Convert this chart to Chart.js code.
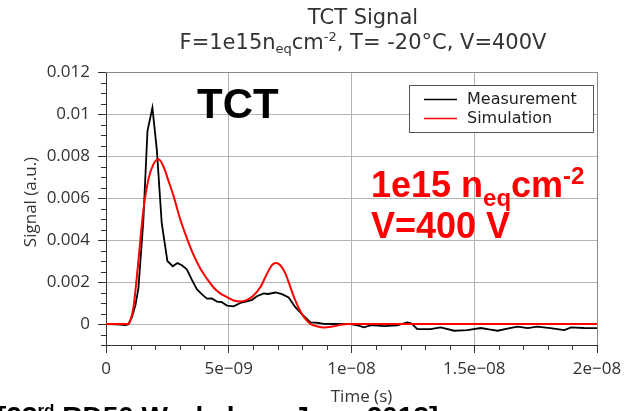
<!DOCTYPE html>
<html>
<head>
<meta charset="utf-8">
<script src="https://cdn.jsdelivr.net/npm/chart.js@4.4.0/dist/chart.umd.min.js"></script>
<style>
  html, body { margin: 0; padding: 0; background: #fff; }
  #wrap { width: 635px; height: 411px; position: relative; }
</style>
</head>
<body>
<div id="wrap"><canvas id="tct"></canvas></div>
<script>
// time in ns, signal in a.u.
const measTime = [0, 0.4, 0.8, 0.9, 1.05, 1.2, 1.32, 1.52, 1.69, 1.89, 2.07, 2.27, 2.5, 2.72, 2.91, 3.09, 3.29, 3.5, 3.7, 3.9,
  4.11, 4.31, 4.52, 4.72, 4.93, 5.2, 5.47, 5.74, 5.95, 6.15, 6.42, 6.6, 6.9, 7.17, 7.44, 7.71, 7.99, 8.33, 8.6, 8.87,
  9.28, 9.96, 10.3, 10.5, 10.8, 11.33, 11.86, 12.27, 12.45, 12.68, 13.22, 13.63, 14.18, 14.72, 15.27, 15.6, 15.95, 16.5, 16.77, 17.18,
  17.57, 18.1, 18.67, 18.94, 19.48, 20];
const measSignal = [0, -0.00002, -0.00005, -0.00002, 0.0003, 0.0009, 0.0017, 0.0049, 0.0092, 0.0103, 0.0083, 0.0048, 0.003, 0.00275, 0.0029, 0.0028, 0.0026, 0.0021, 0.00166, 0.00142,
  0.00121, 0.00122, 0.00107, 0.00104, 0.00088, 0.00084, 0.001, 0.00108, 0.00115, 0.00132, 0.00146, 0.00143, 0.0015, 0.00142, 0.00126, 0.0008, 0.00046, 0.00008, 0.00006, 0.00001,
  0, -0.00001, -0.00008, -0.00016, -0.00005, -0.0001, -0.00007, 0.00008, 0.00002, -0.00024, -0.00024, -0.00016, -0.00032, -0.00029, -0.00019, -0.00026, -0.00032, -0.00019, -0.00013, -0.0002,
  -0.00013, -0.0002, -0.00029, -0.00016, -0.00019, -0.0002];

const simTime = [0, 0.93, 1.0, 1.12, 1.32, 1.52, 1.73, 1.93, 2.14, 2.34, 2.55, 2.75, 3.02, 3.29, 3.56, 3.84, 4.11, 4.38, 4.65, 4.93,
  5.2, 5.47, 5.74, 6.01, 6.29, 6.56, 6.76, 6.92, 7.1, 7.31, 7.51, 7.71, 7.92, 8.12, 8.33, 8.6, 8.87, 9.28, 9.55, 9.9, 20];
const simSignal = [0, 0, 0.0002, 0.0008, 0.003, 0.0054, 0.0069, 0.0076, 0.00784, 0.0075, 0.0068, 0.0061, 0.005, 0.0041, 0.0033, 0.00264, 0.00216, 0.00174, 0.00146, 0.00128,
  0.00112, 0.00107, 0.00115, 0.00136, 0.00176, 0.0024, 0.0028, 0.0029, 0.0028, 0.0024, 0.00176, 0.00112, 0.0006, 0.00024, 0, -0.00011, -0.00017, -0.00011, -0.00004, 0, 0];

const xTickLabels = ["0", "5e\u221209", "1e\u221208", "1.5e\u221208", "2e\u221208"];
const yTickLabels = ["0", "0.002", "0.004", "0.006", "0.008", "0.01", "0.012"];

const X_MAJOR = 5e-9, X_MINOR = 1e-9;
const Y_MAJOR = 0.002, Y_MINOR = 0.0005;
const GRID = "#b4b4b4";
const AXIS = "#333";
const TEXT = "#333";

function isMajor(v, step) {
  const r = v / step;
  return Math.abs(r - Math.round(r)) < 1e-6;
}

// draws a row of text pieces (for sub/superscripts)
function drawRich(ctx, x, y, parts, family, weight, color, align) {
  let w = 0;
  parts.forEach(p => {
    ctx.font = `${weight} ${p.size}px ${family}`;
    p.w = ctx.measureText(p.t).width;
    w += p.w;
  });
  let cx = align === "center" ? x - w / 2 : x;
  ctx.fillStyle = color;
  ctx.textAlign = "left";
  ctx.textBaseline = "alphabetic";
  parts.forEach(p => {
    ctx.font = `${weight} ${p.size}px ${family}`;
    ctx.fillText(p.t, cx, y + (p.dy || 0));
    cx += p.w;
  });
}

const decor = {
  id: "decor",
  beforeDatasetsDraw(chart) {
    const { ctx, chartArea: a } = chart;
    ctx.save();
    ctx.strokeStyle = "#8a8a8a";
    ctx.lineWidth = 1;
    ctx.beginPath();
    ctx.moveTo(a.left, Math.round(a.top) + 0.5);
    ctx.lineTo(Math.round(a.right) + 0.5, Math.round(a.top) + 0.5);
    ctx.lineTo(Math.round(a.right) + 0.5, a.bottom);
    ctx.stroke();
    ctx.restore();
  },
  afterDraw(chart) {
    const { ctx, chartArea: a } = chart;
    const xs = chart.scales.x, ys = chart.scales.y;
    ctx.save();

    // minor ticks, shorter than the major ones
    ctx.strokeStyle = AXIS;
    ctx.lineWidth = 1;
    ctx.beginPath();
    xs.ticks.forEach(t => {
      if (isMajor(t.value, X_MAJOR)) return;
      const px = Math.round(xs.getPixelForValue(t.value)) + 0.5;
      ctx.moveTo(px, a.bottom);
      ctx.lineTo(px, a.bottom + 5);
    });
    ys.ticks.forEach(t => {
      if (isMajor(t.value, Y_MAJOR) && t.value >= 0) return;
      const py = Math.round(ys.getPixelForValue(t.value)) + 0.5;
      ctx.moveTo(a.left, py);
      ctx.lineTo(a.left - 5, py);
    });
    ctx.stroke();

    // title
    const tf = "'DejaVu Sans'";
    drawRich(ctx, 363, 24, [{ t: "TCT Signal", size: 21 }], tf, "normal", TEXT, "center");
    drawRich(ctx, 363, 49, [
      { t: "F=1e15n", size: 21 },
      { t: "eq", size: 13, dy: 4 },
      { t: "cm", size: 21 },
      { t: "-2", size: 13, dy: -8 },
      { t: ", T= -20\u00B0C, V=400V", size: 21 }
    ], tf, "normal", TEXT, "center");

    // axis titles
    ctx.fillStyle = TEXT;
    ctx.font = "17px 'Open Sans'";
    ctx.textAlign = "center";
    ctx.textBaseline = "middle";
    ctx.fillText("Time (s)", 361.5, 397);
    ctx.save();
    ctx.translate(31, 202);
    ctx.rotate(-Math.PI / 2);
    ctx.fillText("Signal (a.u.)", 0, 0);
    ctx.restore();

    // legend
    ctx.fillStyle = "#fff";
    ctx.fillRect(409.5, 85.5, 184, 47);
    ctx.strokeStyle = "#555";
    ctx.strokeRect(409.5, 85.5, 184, 47);
    chart.data.datasets.forEach((ds, i) => {
      const ly = 99.5 + i * 19;
      ctx.strokeStyle = ds.borderColor;
      ctx.lineWidth = 1.5;
      ctx.beginPath();
      ctx.moveTo(424, ly);
      ctx.lineTo(457, ly);
      ctx.stroke();
      ctx.fillStyle = "#222";
      ctx.font = "16px 'DejaVu Sans'";
      ctx.textAlign = "left";
      ctx.textBaseline = "middle";
      ctx.fillText(ds.label, 467, ly);
    });

    // annotations
    const af = "'Liberation Sans', Arial";
    drawRich(ctx, 197, 118, [{ t: "TCT", size: 42 }], af, "bold", "#000", "left");
    drawRich(ctx, 371, 197, [
      { t: "1e15 n", size: 36 },
      { t: "eq", size: 24, dy: 9 },
      { t: "cm", size: 36 },
      { t: "-2", size: 24, dy: -13 }
    ], af, "bold", "#ff0000", "left");
    drawRich(ctx, 371, 238, [{ t: "V=400 V", size: 36 }], af, "bold", "#ff0000", "left");

    // citation cut by the bottom edge
    drawRich(ctx, -3, 426, [
      { t: "[23", size: 28 },
      { t: "rd", size: 17, dy: -10 },
      { t: " RD50 Workshop, June 2013]", size: 28 }
    ], af, "bold", "#000", "left");

    ctx.restore();
  }
};

const toPoints = (ts, vs) => ts.map((t, i) => ({ x: t * 1e-9, y: vs[i] }));

new Chart(document.getElementById("tct"), {
  type: "line",
  data: {
    datasets: [
      {
        label: "Measurement",
        data: toPoints(measTime, measSignal),
        borderColor: "#000000",
        borderWidth: 1.8,
        pointRadius: 0,
        tension: 0,
        order: 1
      },
      {
        label: "Simulation",
        data: toPoints(simTime, simSignal),
        borderColor: "#ff0000",
        borderWidth: 2,
        pointRadius: 0,
        cubicInterpolationMode: "monotone",
        order: 0
      }
    ]
  },
  options: {
    responsive: true,
    maintainAspectRatio: false,
    animation: false,
    layout: { padding: { top: 72, right: 38, left: 0, bottom: 0 } },
    plugins: {
      legend: { display: false },
      title: { display: false },
      tooltip: { enabled: false }
    },
    scales: {
      x: {
        type: "linear",
        min: 0,
        max: 2e-8,
        afterFit: (s) => { s.height = 66; },
        border: { color: AXIS, width: 1 },
        grid: {
          color: (c) => (isMajor(c.tick.value, X_MAJOR) ? GRID : "transparent"),
          tickColor: (c) => (isMajor(c.tick.value, X_MAJOR) ? AXIS : "transparent"),
          tickLength: 8
        },
        ticks: {
          stepSize: X_MINOR,
          autoSkip: false,
          maxRotation: 0,
          padding: 6,
          color: TEXT,
          font: { family: "'Open Sans'", size: 17 },
          callback: (v) => (isMajor(v, X_MAJOR) ? xTickLabels[Math.round(v / X_MAJOR)] : "")
        }
      },
      y: {
        min: -0.001,
        max: 0.012,
        afterFit: (s) => { s.width = 106; },
        border: { color: AXIS, width: 1 },
        grid: {
          color: (c) => (isMajor(c.tick.value, Y_MAJOR) && c.tick.value >= 0 ? GRID : "transparent"),
          tickColor: (c) => (isMajor(c.tick.value, Y_MAJOR) && c.tick.value >= 0 ? AXIS : "transparent"),
          tickLength: 8
        },
        ticks: {
          stepSize: Y_MINOR,
          autoSkip: false,
          padding: 8,
          color: TEXT,
          font: { family: "'Open Sans'", size: 17 },
          callback: (v) => (isMajor(v, Y_MAJOR) && v >= 0 ? yTickLabels[Math.round(v / Y_MAJOR)] : "")
        }
      }
    }
  },
  plugins: [decor]
});
</script>
</body>
</html>
